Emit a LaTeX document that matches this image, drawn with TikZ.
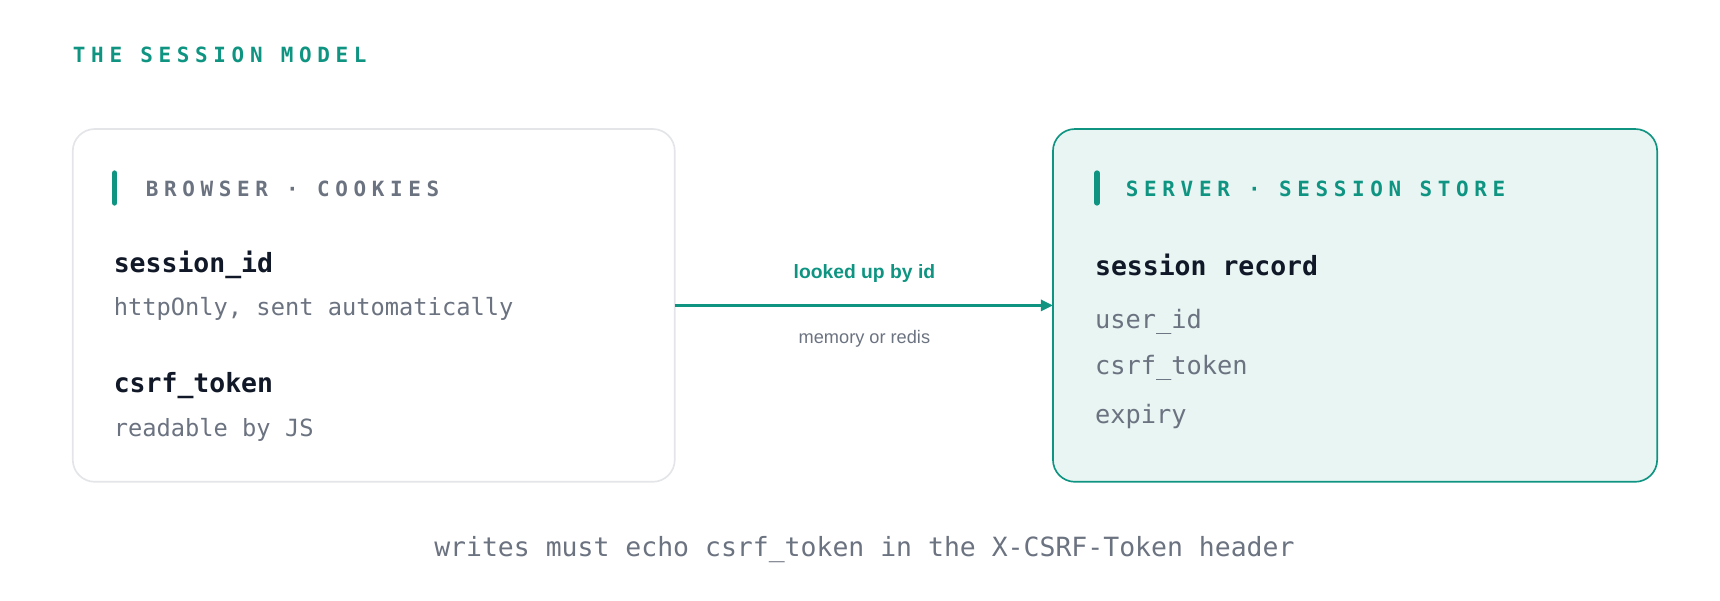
\documentclass[tikz,border=0pt]{standalone}
\usepackage{fontspec}
\setmonofont{DejaVu Sans Mono}
\setsansfont{Liberation Sans}
\newfontfamily\capsfont[LetterSpace=27]{DejaVu Sans Mono}
\usetikzlibrary{positioning,arrows.meta}
\definecolor{teal}{HTML}{0F9482}
\definecolor{ink}{HTML}{111827}
\definecolor{mute}{HTML}{6B7280}
\definecolor{pale}{HTML}{E8F5F3}
\definecolor{rim}{HTML}{E3E5E8}

\begin{document}
\begin{tikzpicture}[x=1pt, y=-1pt,
    panel/.style={draw=rim, line width=1.5pt, rounded corners=20pt, fill=white},
    capline/.style={anchor=west, inner sep=0pt, font=\capsfont\bfseries\fontsize{19}{20}\selectfont},
    keyline/.style={anchor=west, inner sep=0pt, text=ink, font=\ttfamily\bfseries\fontsize{24}{26}\selectfont},
    noteline/.style={anchor=west, inner sep=0pt, text=mute, font=\ttfamily\fontsize{21.5}{24}\selectfont},
    fieldline/.style={anchor=west, inner sep=0pt, text=mute, font=\ttfamily\fontsize{23}{25}\selectfont},
    tagbar/.style={line width=5pt, line cap=round, teal}]

    \useasboundingbox (0,0) rectangle (1560,545);

    \node[capline, text=teal] (title) at (66,50) {THE SESSION MODEL};

    % browser side
    \draw[panel] (66,117) rectangle (612,437);
    \coordinate (bl) at (612,277);
    \draw[tagbar] (104,157) -- (104,184);
    \node[capline, text=mute] (bhead) at (132,171) {BROWSER · COOKIES};
    \node[keyline] (sid) at (103,240) {session\_id};
    \node[noteline] (sidnote) at (103,280) {httpOnly, sent automatically};
    \node[keyline] (csrf) at (103,350) {csrf\_token};
    \node[noteline] (csrfnote) at (103,390) {readable by JS};

    % server side
    \draw[panel, draw=teal, fill=pale] (955,117) rectangle (1503,437);
    \coordinate (sr) at (955,277);
    \draw[tagbar] (995,157) -- (995,184);
    \node[capline, text=teal] (shead) at (1021,171) {SERVER · SESSION STORE};
    \node[keyline] (rec) at (993,240) {session record};
    \node[fieldline] (uid) at (993,292) {user\_id};
    \node[fieldline] (tok) at (993,334) {csrf\_token};
    \node[fieldline] (exp) at (993,378) {expiry};

    \draw[-{Triangle[length=11pt,width=10pt]}, line width=3pt, teal] (bl) -- (sr);
    \node[text=teal, font=\sffamily\bfseries\fontsize{17.5}{20}\selectfont] (look) at (784,248) {looked up by id};
    \node[text=mute, font=\sffamily\fontsize{16.5}{19}\selectfont] (mem) at (784,307) {memory or redis};

    \node[text=mute, font=\ttfamily\fontsize{24}{26}\selectfont] (foot) at (784,498) {writes must echo csrf\_token in the X-CSRF-Token header};
\end{tikzpicture}
\end{document}
